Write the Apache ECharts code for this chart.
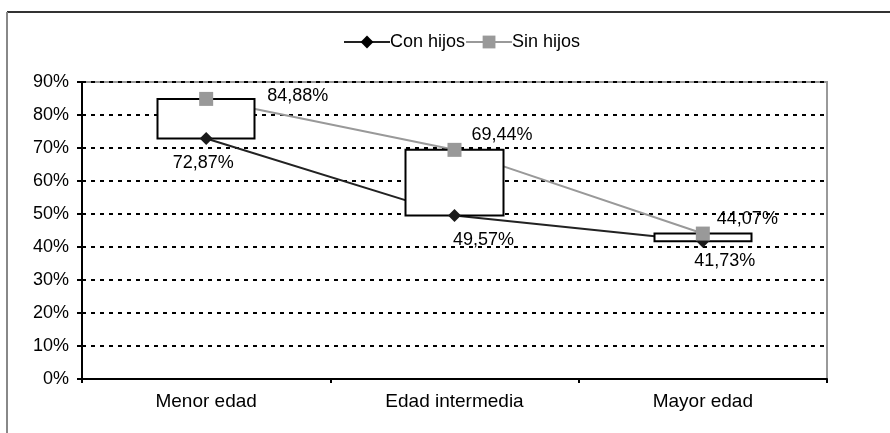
<!DOCTYPE html>
<html>
<head>
<meta charset="utf-8">
<script src="https://cdn.jsdelivr.net/npm/echarts@6/dist/echarts.min.js"></script>
<style>
html,body{margin:0;padding:0;background:#fff;}
#chart{width:890px;height:433px;}
</style>
</head>
<body>
<div id="chart"></div>
<script>
var categories = ['Menor edad', 'Edad intermedia', 'Mayor edad'];
var conHijos = [72.87, 49.57, 41.73];
var sinHijos = [84.88, 69.44, 44.07];
var yTicks = [0, 10, 20, 30, 40, 50, 60, 70, 80, 90];

var fmt = function(v){
	return v.toFixed(2).replace('.', ',') + '%';
};

var boxes = [];
for(var i=0;i<categories.length;i++){
	var lo = Math.min(conHijos[i], sinHijos[i]);
	var hi = Math.max(conHijos[i], sinHijos[i]);
	boxes.push([conHijos[i], sinHijos[i], lo, hi]);
}

// label nudges, like the hand moved labels in the original
var conOffsets = [[-3,0],[29,0],[22,-5]];
var sinOffsets = [[44,-3],[0,-15],[-3,-15]];

var conMarks = conHijos.map(function(v,i){
	return {value:v, label:{offset:conOffsets[i]}};
});
var sinMarks = sinHijos.map(function(v,i){
	return {value:v, label:{offset:sinOffsets[i]}};
});

var font = '"Liberation Sans", Arial, sans-serif';
var chart = echarts.init(document.getElementById('chart'));
chart.setOption({
	animation:false,
	textStyle:{fontFamily:font},
	graphic:[
		{type:'line', shape:{x1:7, y1:12, x2:890, y2:12}, style:{stroke:'#333', lineWidth:2}},
		{type:'line', shape:{x1:7, y1:12, x2:7, y2:433}, style:{stroke:'#888', lineWidth:2}}
	],
	legend:{
		top:28,
		left:338,
		itemWidth:46,
		itemHeight:16,
		itemGap:0,
		data:['Con hijos','Sin hijos'],
		textStyle:{fontSize:18, color:'#000', fontFamily:font, padding:[0,0,0,-5]}
	},
	grid:{
		left:82, right:63, top:82, bottom:54,
		show:true, borderColor:'#999', borderWidth:2, backgroundColor:'#fff'
	},
	xAxis:{
		type:'category',
		data:categories,
		boundaryGap:true,
		axisLine:{lineStyle:{color:'#000', width:2}},
		axisTick:{show:true, length:4, lineStyle:{color:'#000', width:2}},
		axisLabel:{color:'#000', fontSize:19, margin:13, fontFamily:font}
	},
	yAxis:{
		type:'value',
		min:yTicks[0],
		max:yTicks[yTicks.length-1],
		interval:10,
		axisLine:{show:true, lineStyle:{color:'#000', width:2}},
		axisTick:{show:true, length:5, lineStyle:{color:'#000', width:2}},
		axisLabel:{color:'#000', fontSize:18, margin:13, fontFamily:font, formatter:'{value}%'},
		splitLine:{show:true, lineStyle:{color:'#000', width:2, type:[4,5]}}
	},
	series:[
		{
			name:'Con hijos', type:'line', data:conHijos, z:2,
			symbol:'diamond', symbolSize:13, showSymbol:false, silent:true,
			itemStyle:{color:'#000'},
			lineStyle:{color:'#222', width:2}
		},
		{
			name:'Sin hijos', type:'line', data:sinHijos, z:2,
			symbol:'rect', symbolSize:14, showSymbol:false, silent:true,
			itemStyle:{color:'#999'},
			lineStyle:{color:'#999', width:2}
		},
		{
			type:'candlestick', data:boxes, z:3, barWidth:98, silent:true,
			itemStyle:{color:'#fff', color0:'#fff', borderColor:'#000', borderColor0:'#000', borderWidth:2}
		},
		{
			name:'Con hijos', type:'line', data:conMarks, z:4,
			symbol:'diamond', symbolSize:13,
			itemStyle:{color:'#1a1a1a'},
			lineStyle:{width:0, opacity:0},
			label:{show:true, position:'bottom', distance:9, fontSize:18, color:'#000', fontFamily:font,
				formatter:function(p){return fmt(p.value);}}
		},
		{
			name:'Sin hijos', type:'line', data:sinMarks, z:4,
			symbol:'rect', symbolSize:14,
			itemStyle:{color:'#999'},
			lineStyle:{width:0, opacity:0},
			label:{show:true, position:'right', distance:10, fontSize:18, color:'#000', fontFamily:font,
				formatter:function(p){return fmt(p.value);}}
		}
	]
});
</script>
</body>
</html>
